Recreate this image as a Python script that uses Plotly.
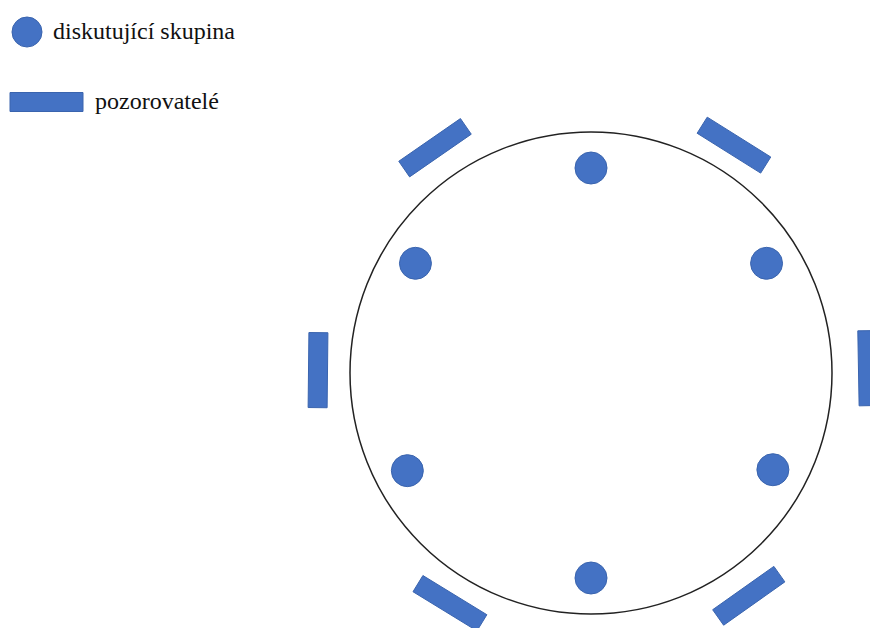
import math

import plotly.graph_objects as go

# circle (table) in page pixels
table_center = (591, 373)
table_radius = 241

# discussion group members: angle (deg, counter-clockwise from east) and distance from centre
group_angles = [90, 32, -28, -90, 208, 148]
group_dist = [205, 207, 206, 205, 208, 207]

# observers outside the circle
observer_angles = [124.7, 57.9, 179.4, 1.0, 238.5, -54.7]
observer_dist = [274, 269, 273, 277, 270, 273]

legend_labels = ["diskutující skupina", "pozorovatelé"]

BLUE = "#4472C4"
EDGE = "#3A64AE"
W, H = 870, 628
RECT_LEN, RECT_W = 75, 19


def polar(angle, dist):
    a = math.radians(angle)
    cx, cy = table_center
    return cx + dist * math.cos(a), cy - dist * math.sin(a)


def rect_path(cx, cy, angle, length, width):
    # long side tangent to the circle -> rotated 90 deg from the radius
    t = math.radians(angle + 90)
    ux, uy = math.cos(t), -math.sin(t)
    nx, ny = -uy, ux
    hl, hw = length / 2, width / 2
    xs, ys = [], []
    for sl, sw in [(-1, -1), (1, -1), (1, 1), (-1, 1), (-1, -1)]:
        xs.append(cx + sl * hl * ux + sw * hw * nx)
        ys.append(cy + sl * hl * uy + sw * hw * ny)
    return xs, ys


fig = go.Figure()

cx, cy = table_center
fig.add_shape(type="circle", xref="x", yref="y",
              x0=cx - table_radius, x1=cx + table_radius,
              y0=cy - table_radius, y1=cy + table_radius,
              line=dict(color="#222222", width=1.5))

# observers
for ang, d in zip(observer_angles, observer_dist):
    ox, oy = polar(ang, d)
    xs, ys = rect_path(ox, oy, ang, RECT_LEN, RECT_W)
    fig.add_trace(go.Scatter(x=xs, y=ys, mode="lines", fill="toself",
                             fillcolor=BLUE, line=dict(color=EDGE, width=1),
                             hoverinfo="skip", showlegend=False))

# group members
gx, gy = zip(*[polar(a, d) for a, d in zip(group_angles, group_dist)])
fig.add_trace(go.Scatter(x=gx, y=gy, mode="markers",
                         marker=dict(size=32, color=BLUE, line=dict(color=EDGE, width=1)),
                         hoverinfo="skip", showlegend=False))

# hand-made legend
fig.add_trace(go.Scatter(x=[27], y=[32], mode="markers",
                         marker=dict(size=30, color=BLUE, line=dict(color=EDGE, width=1)),
                         hoverinfo="skip", showlegend=False))
lx, ly = rect_path(46.5, 102, -90, 73, 19)
fig.add_trace(go.Scatter(x=lx, y=ly, mode="lines", fill="toself",
                         fillcolor=BLUE, line=dict(color=EDGE, width=1),
                         hoverinfo="skip", showlegend=False))

for label, (tx, ty) in zip(legend_labels, [(51, 31), (93, 101)]):
    fig.add_annotation(x=tx, y=ty, text=label, showarrow=False,
                       xanchor="left", yanchor="middle",
                       font=dict(family="Liberation Serif", size=24, color="#111111"))

fig.update_xaxes(range=[0, W], visible=False, fixedrange=True)
fig.update_yaxes(range=[H, 0], visible=False, fixedrange=True)
fig.update_layout(width=W, height=H, margin=dict(l=0, r=0, t=0, b=0),
                  plot_bgcolor="white", paper_bgcolor="white")

fig.write_html("out.html", config={"displayModeBar": False},
               post_script="document.body.style.margin='0';")
